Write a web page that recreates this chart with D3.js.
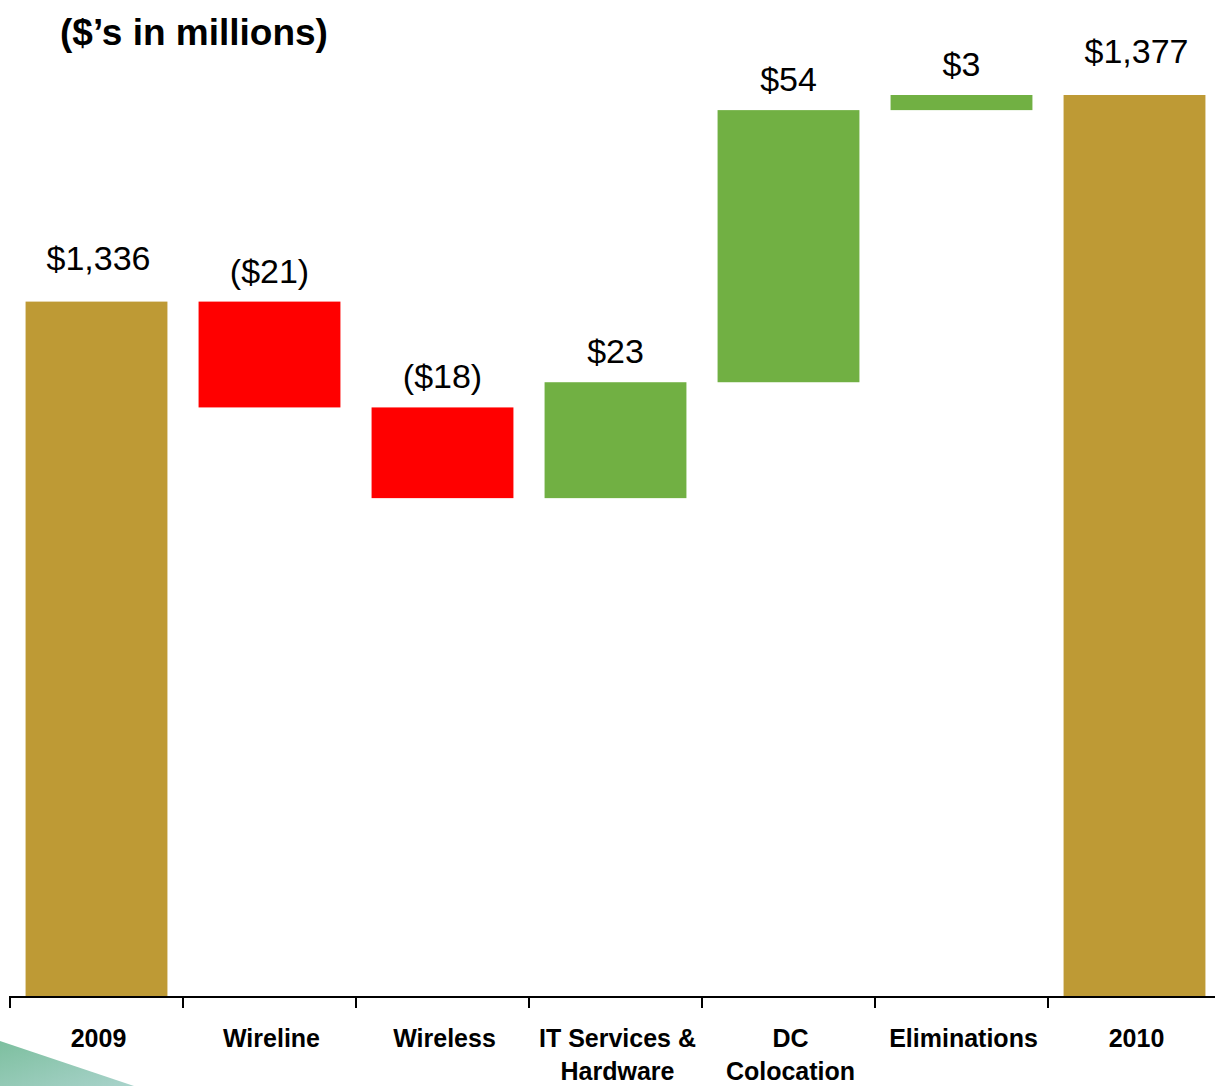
<!DOCTYPE html>
<html>
<head>
<meta charset="utf-8">
<script src="https://cdn.jsdelivr.net/npm/d3@7"></script>
<style>
  html, body { margin: 0; padding: 0; background: #ffffff; }
  svg { display: block; }
</style>
</head>
<body>
<svg id="chart" width="1215" height="1086"></svg>
<script>
// Revenue bridge, 2009 to 2010 ($ in millions)
const categories = ["2009", "Wireline", "Wireless", "IT Services &\nHardware", "DC\nColocation", "Eliminations", "2010"];
const kinds      = ["total", "delta", "delta", "delta", "delta", "delta", "total"];
const values     = [1336, -21, -18, 23, 54, 3, 1377];
const axisFloor  = 1198;   // value at the category axis (truncated scale)
const axisTop    = 1377;

const W = 1215, H = 1086;
const svg = d3.select("#chart");

const colors = { total: "#BE9A35", up: "#71B043", down: "#FF0000" };

// Build the floating segments
let running = 0;
const bars = categories.map((c, i) => {
  const v = values[i];
  let y0, y1;
  if (kinds[i] === "total") {
    y0 = axisFloor; y1 = v; running = v;
  } else {
    y0 = running; y1 = running + v; running = y1;
  }
  return { cat: c, kind: kinds[i], value: v, lo: Math.min(y0, y1), hi: Math.max(y0, y1) };
});

const x = d3.scaleBand()
  .domain(categories)
  .range([10, 1221])
  .paddingInner(0.18)
  .paddingOuter(0.09);

const y = d3.scaleLinear()
  .domain([axisFloor, axisTop])
  .range([997, 95]);

// decorative corner wedge
const defs = svg.append("defs");
const grad = defs.append("linearGradient").attr("id", "wedge")
  .attr("x1", "0").attr("y1", "0").attr("x2", "1").attr("y2", "1");
grad.append("stop").attr("offset", "0").attr("stop-color", "#7DBF9F");
grad.append("stop").attr("offset", "1").attr("stop-color", "#A9D3CB");
svg.append("path")
  .attr("d", "M0,1041 L134,1086 L0,1086 Z")
  .attr("fill", "url(#wedge)");

// bars
svg.append("g").selectAll("rect")
  .data(bars)
  .join("rect")
  .attr("x", d => x(d.cat))
  .attr("width", x.bandwidth())
  .attr("y", d => y(d.hi))
  .attr("height", d => y(d.lo) - y(d.hi))
  .attr("fill", d => d.kind === "total" ? colors.total : (d.value < 0 ? colors.down : colors.up));

// value labels
const fmt = d3.format(",");
svg.append("g").selectAll("text")
  .data(bars)
  .join("text")
  .attr("x", d => x(d.cat) + x.bandwidth() / 2 + (d.kind === "total" ? 2 : 0))
  .attr("y", d => y(d.hi) - (d.kind === "total" ? 32 : 19))
  .attr("text-anchor", "middle")
  .attr("font-family", "'Liberation Sans', Arial, sans-serif")
  .attr("font-size", 34)
  .attr("fill", "#000")
  .text(d => d.value < 0 ? `($${fmt(-d.value)})` : `$${fmt(d.value)}`);

// category axis with ticks at band boundaries
const axisY = 997;
const edges = categories.map(c => x(c) - x.step() * x.paddingInner() / 2);
edges.push(x(categories[categories.length - 1]) + x.bandwidth() + x.step() * x.paddingInner() / 2);
const axis = svg.append("g");
axis.append("line")
  .attr("x1", edges[0]).attr("x2", W + 10)
  .attr("y1", axisY).attr("y2", axisY)
  .attr("stroke", "#000").attr("stroke-width", 2);
axis.selectAll("line.tick")
  .data(edges)
  .join("line")
  .attr("class", "tick")
  .attr("x1", d => d).attr("x2", d => d)
  .attr("y1", axisY - 1).attr("y2", axisY + 11)
  .attr("stroke", "#000").attr("stroke-width", 2);

const catLabels = svg.append("g")
  .attr("font-family", "'Liberation Sans', Arial, sans-serif")
  .attr("font-weight", "bold")
  .attr("font-size", 25)
  .attr("fill", "#000")
  .attr("text-anchor", "middle");
catLabels.selectAll("text")
  .data(categories)
  .join("text")
  .attr("x", d => x(d) + x.bandwidth() / 2)
  .attr("y", 1047)
  .each(function (d) {
    const t = d3.select(this);
    d.split("\n").forEach((line, i) => {
      t.append("tspan")
        .attr("x", x(d) + x.bandwidth() / 2 + 2)
        .attr("dy", i === 0 ? 0 : 33)
        .text(line);
    });
  });

// units note
svg.append("text")
  .attr("x", 60)
  .attr("y", 45)
  .attr("font-family", "'Liberation Sans', Arial, sans-serif")
  .attr("font-weight", "bold")
  .attr("font-size", 37)
  .attr("fill", "#000")
  .text("($\u2019s in millions)");
</script>
</body>
</html>
